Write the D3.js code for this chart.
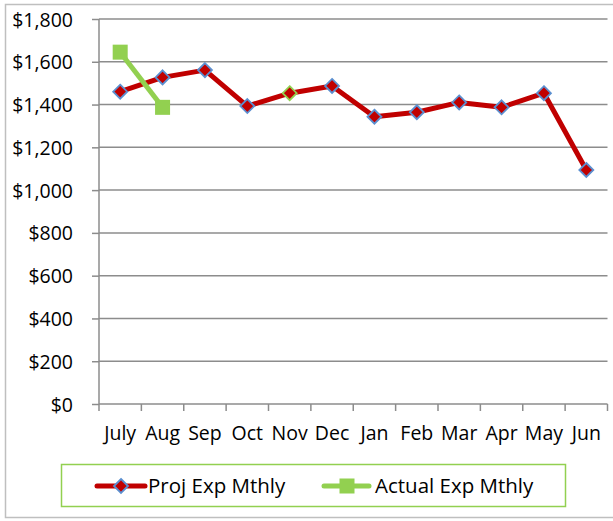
<!DOCTYPE html>
<html><head><meta charset="utf-8">
<script src="https://cdn.jsdelivr.net/npm/d3@7"></script>
<style>body{margin:0;background:#fff}svg{display:block}</style>
</head><body>
<script>
const months = ["July","Aug","Sep","Oct","Nov","Dec","Jan","Feb","Mar","Apr","May","Jun"];
const projExp = [1460,1527,1561,1393,1453,1487,1343,1364,1410,1387,1453,1094];
const actualExp = [1645,1387];
const yTicks = [0,200,400,600,800,1000,1200,1400,1600,1800];
const seriesNames = ["Proj Exp Mthly","Actual Exp Mthly"];

const W=613,H=521;
const svg=d3.select("body").append("svg").attr("width",W).attr("height",H);
const font="'Open Sans', 'Liberation Sans', Arial, sans-serif";
const fs=19.5, lfs=20.5;
svg.append("rect").attr("x",5.5).attr("y",4.5).attr("width",W+10).attr("height",513).attr("fill","#fff").attr("stroke","#bfbfbf").attr("stroke-width",1.5);

const L=99,R=607.5,T=19,B=404;
const x=d3.scaleBand().domain(months).range([L,R]);
const y=d3.scaleLinear().domain([0,1800]).range([B,T]);

svg.append("g").selectAll("line").data(yTicks.filter(d=>d>0)).join("line")
  .attr("x1",L).attr("x2",R).attr("y1",d=>y(d)).attr("y2",d=>y(d))
  .attr("stroke","#8c8c8c").attr("stroke-width",1.5);

const yAxis=svg.append("g").attr("transform",`translate(${L},0)`)
  .call(d3.axisLeft(y).tickValues(yTicks).tickSize(7).tickPadding(19).tickFormat(d=>"$"+d3.format(",")(d)));
yAxis.select(".domain").attr("stroke","#8c8c8c").attr("stroke-width",1.5).attr("d",`M0,${T}V${B}`);
yAxis.selectAll(".tick line").attr("stroke","#8c8c8c").attr("stroke-width",1.5);
yAxis.selectAll("text").attr("font-family",font).attr("font-size",fs).attr("fill","#000").attr("dy","0.36em");

const xAxis=svg.append("g").attr("transform",`translate(0,${B})`)
  .call(d3.axisBottom(x).tickSize(0).tickPadding(22));
xAxis.select(".domain").attr("stroke","#8c8c8c").attr("stroke-width",1.5).attr("d",`M${L},0H${R}`);
xAxis.selectAll("text").attr("font-family",font).attr("font-size",fs).attr("fill","#000");
const bounds=months.map(m=>x(m)).concat([R]);
xAxis.append("g").selectAll("line").data(bounds).join("line")
  .attr("x1",d=>d).attr("x2",d=>d).attr("y1",0).attr("y2",7)
  .attr("stroke","#8c8c8c").attr("stroke-width",1.5);

const cx=(d,i)=>x(months[i])+x.bandwidth()/2;
const line=d3.line().x((d,i)=>cx(d,i)).y(d=>y(d));
const red="#c00000", green="#92d050";

svg.append("path").datum(projExp).attr("d",line).attr("fill","none").attr("stroke",red).attr("stroke-width",5).attr("stroke-linejoin","round");
svg.append("g").selectAll("path").data(projExp).join("path")
  .attr("transform",(d,i)=>`translate(${cx(d,i)},${y(d)})`)
  .attr("d","M0,-7L7,0L0,7L-7,0Z")
  .attr("fill",red).attr("stroke",(d,i)=>i===4?green:"#5b8fd0").attr("stroke-width",1.8);

svg.append("path").datum(actualExp).attr("d",line).attr("fill","none").attr("stroke",green).attr("stroke-width",5);
svg.append("g").selectAll("rect").data(actualExp).join("rect")
  .attr("x",(d,i)=>cx(d,i)-7.5).attr("y",d=>y(d)-7.5).attr("width",15).attr("height",15).attr("fill",green);

svg.append("rect").attr("x",61.5).attr("y",464.5).attr("width",504).attr("height",42).attr("fill","#fff").attr("stroke",green).attr("stroke-width",1.5);
const ly=486;
const lg=svg.append("g");
lg.append("line").attr("x1",97).attr("x2",145).attr("y1",ly).attr("y2",ly).attr("stroke",red).attr("stroke-width",5).attr("stroke-linecap","round");
lg.append("path").attr("transform",`translate(121,${ly})`).attr("d","M0,-7L7,0L0,7L-7,0Z").attr("fill",red).attr("stroke","#5b8fd0").attr("stroke-width",1.8);
lg.append("text").attr("x",148).attr("y",ly).attr("dy","0.36em").text(seriesNames[0]).attr("font-family",font).attr("font-size",lfs);
lg.append("line").attr("x1",324).attr("x2",369).attr("y1",ly).attr("y2",ly).attr("stroke",green).attr("stroke-width",5).attr("stroke-linecap","round");
lg.append("rect").attr("x",339.5).attr("y",ly-7.5).attr("width",15).attr("height",15).attr("fill",green);
lg.append("text").attr("x",375).attr("y",ly).attr("dy","0.36em").text(seriesNames[1]).attr("font-family",font).attr("font-size",lfs);
</script>
</body></html>
